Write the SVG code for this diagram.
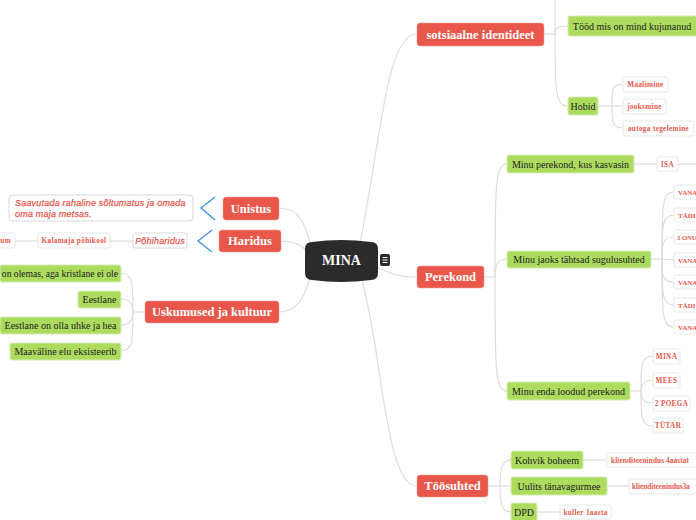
<svg xmlns="http://www.w3.org/2000/svg" width="696" height="520" viewBox="0 0 696 520">
<style>
.bg{fill:#ffffff}
.ln{fill:none;stroke:#dcdcdc;stroke-width:1.2}
.br{fill:none;stroke:#3b8fe5;stroke-width:1.3}
.main rect{fill:#e8574a;stroke:#f0a099;stroke-width:0.6}
.main text{fill:#ffffff;font-family:"Liberation Serif","DejaVu Serif",serif;font-weight:bold;font-size:12.5px;text-anchor:middle}
.sub rect{fill:#acdb5e;stroke:#d6ecb4;stroke-width:1}
.sub text{fill:#222222;font-family:"Liberation Serif","DejaVu Serif",serif;font-size:10px;text-anchor:middle}
.leaf rect{fill:#ffffff;stroke:#e8e8e8;stroke-width:1}
.leaf text{fill:#e8574a;font-family:"Liberation Serif","DejaVu Serif",serif;font-weight:bold;font-size:7.2px;letter-spacing:0.35px;text-anchor:middle}
.edge text{letter-spacing:0;font-size:7px;text-anchor:start}
.note rect{fill:#ffffff;stroke:#d8d8d8;stroke-width:1}
.note text{fill:#e8574a;stroke:#e8574a;stroke-width:0.25;font-family:"Liberation Sans","Open Sans",sans-serif;font-style:italic;font-size:9px;letter-spacing:0.2px}
</style>
<rect class="bg" x="0" y="0" width="696" height="520"/>
<g id="connectors">
<path class="ln" d="M360,242 C380,150 385,34 417,34"/>
<path class="ln" d="M378,268 C395,275 400,277 417,277"/>
<path class="ln" d="M362,280 C382,350 385,486 417,486"/>
<path class="ln" d="M279,208 C300,208 305,225 310,242"/>
<path class="ln" d="M281,241 C295,241 300,245 306,250"/>
<path class="ln" d="M279,312 C300,312 305,292 310,279"/>
<path class="ln" d="M544,34 L555,34"/>
<path class="ln" d="M555,34 C555,20 555,5 555,-20"/>
<path class="ln" d="M555,34 C555,28 558,26 568,26"/>
<path class="ln" d="M555,34 C555,90 555,106 568,106"/>
<path class="ln" d="M598,106 L612,106"/>
<path class="ln" d="M612,106 C612,90 612,84 623,84"/>
<path class="ln" d="M612,106 L623,106"/>
<path class="ln" d="M612,106 C612,122 612,128 623,128"/>
<path class="ln" d="M484,277 L495,277"/>
<path class="ln" d="M495,277 C495,190 495,164 507,164"/>
<path class="ln" d="M495,277 C495,265 497,259 507,259"/>
<path class="ln" d="M495,277 C495,370 495,391 507,391"/>
<path class="ln" d="M634,164 L657,164"/>
<path class="ln" d="M678,164 L696,164"/>
<path class="ln" d="M651,259 L662,259"/>
<path class="ln" d="M662,259 C662,205 662,192 674,192"/>
<path class="ln" d="M662,259 C662,225 662,215 674,215"/>
<path class="ln" d="M662,259 C662,245 662,237 674,237"/>
<path class="ln" d="M662,259 L674,260"/>
<path class="ln" d="M662,259 C662,275 662,282 674,282"/>
<path class="ln" d="M662,259 C662,295 662,305 674,305"/>
<path class="ln" d="M662,259 C662,315 662,327 674,327"/>
<path class="ln" d="M630,391 L641,391"/>
<path class="ln" d="M641,391 C641,365 641,356 653,356"/>
<path class="ln" d="M641,391 C641,385 643,380 653,380"/>
<path class="ln" d="M641,391 C641,398 643,403 653,403"/>
<path class="ln" d="M641,391 C641,416 641,426 653,426"/>
<path class="ln" d="M488,486 L500,486"/>
<path class="ln" d="M500,486 C500,468 502,460 511,460"/>
<path class="ln" d="M500,486 L511,486"/>
<path class="ln" d="M500,486 C500,504 502,512 511,512"/>
<path class="ln" d="M583,460 L607,460"/>
<path class="ln" d="M607,486 L629,486"/>
<path class="ln" d="M537,512 L560,512"/>
<path class="ln" d="M133,241 L110,241"/>
<path class="ln" d="M38,241 L15,241"/>
<path class="ln" d="M145,312 L133,312"/>
<path class="ln" d="M133,312 C133,285 133,273 121,273"/>
<path class="ln" d="M133,312 C133,305 131,299 121,299"/>
<path class="ln" d="M133,312 C133,319 131,325 121,325"/>
<path class="ln" d="M133,312 C133,340 133,351 121,351"/>
<polyline class="br" points="215,197 201,208 215,220"/>
<polyline class="br" points="212,230 198,241 212,252"/>
</g>
<g id="mina">
<path d="M305,249 Q305,242 312,242 Q341,238 371,242 Q378,242 378,249 L378,273 Q378,280 371,280 Q341,284 312,280 Q305,280 305,273 Z" fill="#2b2b2b"/>
<text x="341.5" y="265" fill="#ffffff" font-family="Liberation Serif,DejaVu Serif,serif" font-weight="bold" font-size="14" text-anchor="middle">MINA</text>
<rect x="380" y="254" width="10" height="12" rx="2" fill="#2b2b2b"/>
<path d="M382.5,257.5 H387.5 M382.5,260 H387.5 M382.5,262.5 H387.5" stroke="#ffffff" stroke-width="1"/>
</g>
<g id="sotsiaalne" class="main"><rect x="417" y="23" width="127" height="23" rx="3"/><text x="480.5" y="38.5">sotsiaalne identideet</text></g>
<g id="perekond" class="main"><rect x="417" y="266" width="67" height="22" rx="3"/><text x="450.5" y="281">Perekond</text></g>
<g id="toosuhted" class="main"><rect x="417" y="475" width="71" height="22" rx="3"/><text x="452.5" y="490">Töösuhted</text></g>
<g id="unistus" class="main"><rect x="223" y="197" width="56" height="23" rx="3"/><text x="251" y="212.5">Unistus</text></g>
<g id="haridus" class="main"><rect x="219" y="230" width="62" height="22" rx="3"/><text x="250" y="245">Haridus</text></g>
<g id="uskumused" class="main"><rect x="145" y="301" width="134" height="22" rx="3"/><text x="212" y="316">Uskumused ja kultuur</text></g>
<g id="toodmis" class="sub"><rect x="568" y="16" width="130" height="20" rx="2"/><text x="632" y="29.5">Tööd mis on mind kujunanud</text></g>
<g id="hobid" class="sub"><rect x="568" y="97" width="30" height="18" rx="2"/><text x="583" y="109.5">Hobid</text></g>
<g id="maalimine" class="leaf"><rect x="623" y="77" width="45" height="15" rx="2"/><text x="645.5" y="87">Maalimine</text></g>
<g id="jooksmine" class="leaf"><rect x="623" y="99" width="43" height="15" rx="2"/><text x="644.5" y="109">jooksmine</text></g>
<g id="autoga" class="leaf"><rect x="623" y="121" width="71" height="15" rx="2"/><text x="658.5" y="131">autoga tegelemine</text></g>
<g id="kasvasin" class="sub"><rect x="507" y="155" width="127" height="18" rx="2"/><text x="570.5" y="167.5">Minu perekond, kus kasvasin</text></g>
<g id="sugulus" class="sub"><rect x="507" y="251" width="144" height="17" rx="2"/><text x="579" y="263">Minu jaoks tähtsad sugulusuhted</text></g>
<g id="loodud" class="sub"><rect x="507" y="382" width="123" height="18" rx="2"/><text x="568.5" y="394.5">Minu enda loodud perekond</text></g>
<g id="isa" class="leaf"><rect x="657" y="157" width="21" height="14" rx="2"/><text x="667.5" y="166.5">ISA</text></g>
<g id="s1" class="leaf edge"><rect x="674" y="185" width="30" height="14" rx="2"/><text x="678" y="194.5">VANA</text></g>
<g id="s2" class="leaf edge"><rect x="674" y="208" width="30" height="14" rx="2"/><text x="678" y="217.5">TÄDI</text></g>
<g id="s3" class="leaf edge"><rect x="674" y="230" width="30" height="14" rx="2"/><text x="677" y="239.5" style="font-size:6.6px">3 ONU</text></g>
<g id="s4" class="leaf edge"><rect x="674" y="253" width="30" height="14" rx="2"/><text x="678" y="262.5">VANA</text></g>
<g id="s5" class="leaf edge"><rect x="674" y="275" width="30" height="14" rx="2"/><text x="678" y="284.5">VANA</text></g>
<g id="s6" class="leaf edge"><rect x="674" y="298" width="30" height="14" rx="2"/><text x="678" y="307.5">TÄDI</text></g>
<g id="s7" class="leaf edge"><rect x="674" y="320" width="30" height="14" rx="2"/><text x="678" y="329.5">VANA</text></g>
<g id="mina2" class="leaf"><rect x="653" y="349" width="27" height="15" rx="2"/><text x="666.5" y="359">MINA</text></g>
<g id="mees" class="leaf"><rect x="653" y="373" width="27" height="15" rx="2"/><text x="666.5" y="383">MEES</text></g>
<g id="poega" class="leaf"><rect x="653" y="396" width="37" height="15" rx="2"/><text x="671.5" y="406">2 POEGA</text></g>
<g id="tutar" class="leaf"><rect x="653" y="418" width="30" height="15" rx="2"/><text x="668" y="428">TÜTAR</text></g>
<g id="kohvik" class="sub"><rect x="511" y="451" width="72" height="18" rx="2"/><text x="547" y="463.5">Kohvik boheem</text></g>
<g id="uulits" class="sub"><rect x="511" y="477" width="96" height="18" rx="2"/><text x="559" y="489.5">Uulits tänavagurmee</text></g>
<g id="dpd" class="sub"><rect x="511" y="503" width="26" height="19" rx="2"/><text x="524" y="516">DPD</text></g>
<g id="kl4" class="leaf"><rect x="607" y="453" width="92" height="14" rx="2"/><text x="611" y="462.5" style="text-anchor:start;letter-spacing:0.15px">klienditeenindus 4aastat</text></g>
<g id="kl3" class="leaf"><rect x="629" y="479" width="72" height="15" rx="2"/><text x="632" y="489" style="text-anchor:start;letter-spacing:0">klienditeenindus3a</text></g>
<g id="kuller" class="leaf"><rect x="560" y="505" width="51" height="14" rx="2"/><text x="585.5" y="514.5">kuller 1aasta</text></g>
<g id="unistus-note" class="note"><rect x="9" y="195" width="184" height="26" rx="4"/><text x="15" y="206">Saavutada rahaline sõltumatus ja omada</text><text x="15" y="216.5">oma maja metsas.</text></g>
<g id="pohiharidus" class="note"><rect x="133" y="233" width="54" height="15" rx="2"/><text x="160" y="244" style="text-anchor:middle">Põhiharidus</text></g>
<g id="kalamaja" class="leaf"><rect x="38" y="233" width="72" height="15" rx="2"/><text x="74" y="243">Kalamaja põhikool</text></g>
<g id="gym" class="leaf"><rect x="-20" y="233" width="35" height="15" rx="2"/><text x="11" y="243" style="text-anchor:end">um</text></g>
<g id="jumal" class="sub"><rect x="0" y="265" width="121" height="17" rx="2"/><text x="118" y="277" style="text-anchor:end;font-size:9.6px">on olemas, aga kristlane ei ole</text></g>
<g id="eestlane" class="sub"><rect x="78" y="291" width="43" height="17" rx="2"/><text x="99.5" y="303">Eestlane</text></g>
<g id="uhke" class="sub"><rect x="0" y="317" width="121" height="17" rx="2"/><text x="60.5" y="329">Eestlane on olla uhke ja hea</text></g>
<g id="maavaline" class="sub"><rect x="10" y="343" width="111" height="17" rx="2"/><text x="65.5" y="355">Maaväline elu eksisteerib</text></g>
</svg>
